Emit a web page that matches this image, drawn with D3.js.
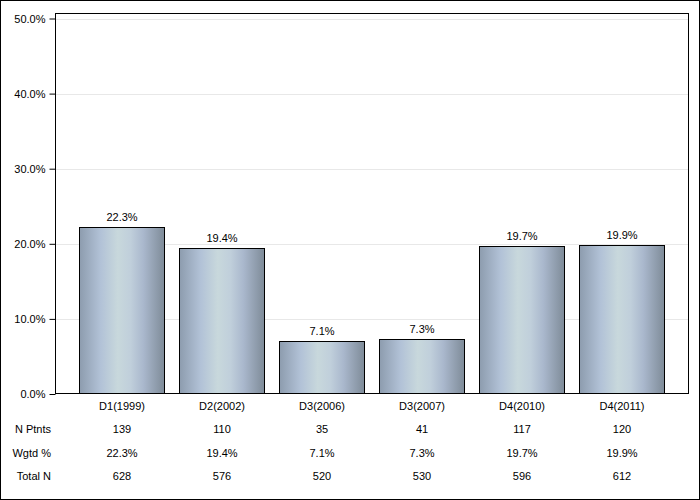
<!DOCTYPE html>
<html><head><meta charset="utf-8">
<script src="https://cdn.jsdelivr.net/npm/d3@7"></script>
<style>body{margin:0;background:#fff}svg{display:block}text{font-family:"Liberation Sans",Arial,sans-serif;font-size:11px;fill:#000}</style>
</head><body><svg id="c" width="700" height="500"></svg>
<script>
const categories = ["D1(1999)","D2(2002)","D3(2006)","D3(2007)","D4(2010)","D4(2011)"];
const values = [22.3,19.4,7.1,7.3,19.7,19.9];
const nPtnts = ["139","110","35","41","117","120"];
const wgtd = ["22.3%","19.4%","7.1%","7.3%","19.7%","19.9%"];
const totalN = ["628","576","520","530","596","612"];
const yTicks = [0,10,20,30,40,50];
const rowLabels = ["N Ptnts","Wgtd %","Total N"];

const svg = d3.select("#c");
svg.append("rect").attr("x",0.5).attr("y",0.5).attr("width",699).attr("height",499).attr("fill","#fff").attr("stroke","#000");

const defs = svg.append("defs");
const g = defs.append("linearGradient").attr("id","bg").attr("x1","0").attr("x2","1").attr("y1","0").attr("y2","0");
[[0,"#8d9cae"],[0.25,"#b2c2d7"],[0.45,"#c8d8dc"],[0.6,"#c0cfdb"],[0.75,"#aab8cd"],[1,"#7e8b98"]].forEach(s=>g.append("stop").attr("offset",s[0]).attr("stop-color",s[1]));

const L=55.5, R=688.5, T=13.5, B=393.5;
const y = d3.scaleLinear().domain([0,50]).range([394,18.5]);
const x = d3.scaleBand().domain(categories).range([72,672]).paddingInner(0.15).paddingOuter(0.075);

// gridlines
svg.append("g").selectAll("line").data(yTicks.filter(d=>d>0)).join("line")
  .attr("x1",L).attr("x2",R).attr("y1",d=>Math.round(y(d))+0.5).attr("y2",d=>Math.round(y(d))+0.5)
  .attr("stroke","#e8e8e8");

// bars
svg.append("g").selectAll("rect").data(values).join("rect")
  .attr("x",(d,i)=>Math.floor(x(categories[i]))+0.5)
  .attr("y",d=>Math.round(y(d))+0.5)
  .attr("width",x.bandwidth())
  .attr("height",d=>B-Math.round(y(d))-0.5)
  .attr("fill","url(#bg)").attr("stroke","#000");

// value labels
svg.append("g").selectAll("text").data(values).join("text")
  .attr("x",(d,i)=>x(categories[i])+x.bandwidth()/2)
  .attr("y",d=>y(d)-6)
  .attr("text-anchor","middle")
  .text(d=>d.toFixed(1)+"%");

// frame
svg.append("rect").attr("x",L).attr("y",T).attr("width",R-L).attr("height",B-T).attr("fill","none").attr("stroke","#000");

// y axis
const ya = d3.axisLeft(y).tickValues(yTicks).tickSize(6).tickFormat(d=>d.toFixed(1)+"%");
const yg = svg.append("g").attr("transform",`translate(${L},0)`).call(ya);
yg.select(".domain").remove();
yg.selectAll("text").style("font-family","'Liberation Sans',Arial,sans-serif").style("font-size","11px").attr("x",-10);
yg.selectAll(".tick line").attr("stroke","#000");

// x labels
const xa = d3.axisBottom(x).tickSize(0).tickPadding(9);
const xg = svg.append("g").attr("transform",`translate(0,${B})`).call(xa);
xg.select(".domain").remove();
xg.selectAll("text").style("font-family","'Liberation Sans',Arial,sans-serif").style("font-size","11px");

// table rows
const rows = [nPtnts,wgtd,totalN];
const rowY = [433,457,480];
rows.forEach((r,ri)=>{
  svg.append("text").attr("x",51).attr("y",rowY[ri]).attr("text-anchor","end").text(rowLabels[ri]);
  svg.append("g").selectAll("text").data(r).join("text")
    .attr("x",(d,i)=>x(categories[i])+x.bandwidth()/2)
    .attr("y",rowY[ri]).attr("text-anchor","middle").text(d=>d);
});
</script></body></html>
